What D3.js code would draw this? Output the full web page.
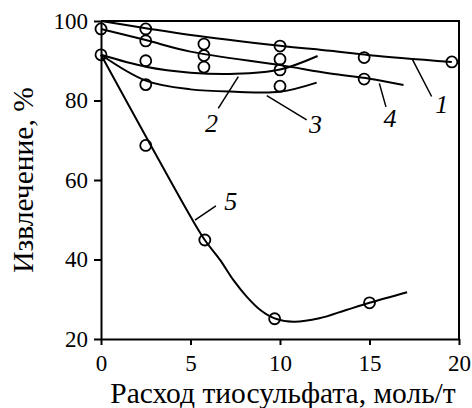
<!DOCTYPE html>
<html>
<head>
<meta charset="utf-8">
<script src="https://cdn.jsdelivr.net/npm/d3@7"></script>
</head>
<body style="margin:0">
<div id="chart"></div>
<script>
// fitted curves 1..5
const curve1 = [[0, 100], [2.5, 98.2], [5, 96.5], [10, 93.8], [12.8, 92.5], [15, 91.4], [19.6, 89.7]];
const curve2 = [[0, 91.5], [2.5, 88.5], [5, 87], [7.5, 86.7], [10, 87.8], [12.1, 91.2]];
const curve3 = [[0, 91.5], [2.5, 85], [5, 82.8], [7.5, 82.2], [10, 82.2], [12.05, 84.5]];
const curve4 = [[0, 98], [2.5, 95.2], [5, 92.3], [10, 88.9], [12.8, 86.8], [15, 85.5], [16.9, 83.9]];
const curve5 = [[0, 91.5], [2.5, 71], [5, 50.8], [5.8, 44.9], [6.65, 39.9], [7.4, 34.8], [8.15, 30.6],
                [8.9, 27.3], [9.7, 25.2], [10.75, 24.35], [12.2, 25.2], [13.7, 27.3], [15, 29.1], [17.1, 31.75]];

// measured points
const points = [
    [0, 98], [0, 91.5],
    [2.5, 98], [2.5, 95], [2.5, 90], [2.5, 84], [2.5, 68.7],
    [5.75, 94.2], [5.75, 91.3], [5.75, 88.4], [5.8, 44.9],
    [10, 93.7], [10, 90.4], [10, 87.7], [10, 83.6], [9.7, 25.1],
    [14.7, 90.8], [14.7, 85.4], [15, 29.1],
    [19.6, 89.7]
];

// curve labels: text, label position, leader line
const labels = [
    { t: "1", x: 19.03, y: 76.9, l: [[17.41, 90.2], [18.47, 81.0]] },
    { t: "2", x: 6.18, y: 72.2, l: [[7.67, 86.0], [6.55, 78.0]] },
    { t: "3", x: 11.99, y: 71.7, l: [[9.26, 81.2], [11.49, 75.1]] },
    { t: "4", x: 16.15, y: 73.4, l: [[15.55, 84.3], [15.92, 78.4]] },
    { t: "5", x: 7.25, y: 52.5, l: [[5.25, 49.9], [6.42, 53.5]] }
];

const xTicks = [0, 5, 10, 15, 20];
const yTicks = [20, 40, 60, 80, 100];
const xTitle = "Расход тиосульфата, моль/т";
const yTitle = "Извлечение, %";

const serif = '"Liberation Serif"';
const width = 472, height = 408;
const x = d3.scaleLinear().domain([0, 20]).range([101, 459]);
const y = d3.scaleLinear().domain([20, 100]).range([339, 21]);

const svg = d3.select("#chart").append("svg")
    .attr("width", width)
    .attr("height", height)
    .style("font-family", serif);

// frame
svg.append("path")
    .attr("d", `M${x(0)},${y(100)}H${x(20)}V${y(20)}`)
    .attr("fill", "none")
    .attr("stroke", "#000")
    .attr("stroke-width", 2);

const xAxis = svg.append("g")
    .attr("transform", `translate(0,${y(20)})`)
    .call(d3.axisBottom(x).tickValues(xTicks).tickSize(6).tickSizeOuter(0).tickPadding(10));
const yAxis = svg.append("g")
    .attr("transform", `translate(${x(0)},0)`)
    .call(d3.axisLeft(y).tickValues(yTicks).tickSize(7).tickSizeOuter(0).tickPadding(6));

[xAxis, yAxis].forEach(g => {
    g.attr("font-family", null).attr("font-size", null);
    g.select(".domain").attr("stroke-width", 2);
    g.selectAll(".tick line").attr("stroke-width", 2);
    g.selectAll("text").style("font-size", "23px").style("font-family", serif).attr("fill", "#000");
});

svg.append("text")
    .attr("x", (x(0) + x(20)) / 2 + 3)
    .attr("y", 403)
    .attr("text-anchor", "middle")
    .style("font-family", serif)
    .style("font-size", "29.5px")
    .text(xTitle);

svg.append("text")
    .attr("transform", "translate(33,180) rotate(-90)")
    .attr("text-anchor", "middle")
    .style("font-family", serif)
    .style("font-size", "29.5px")
    .text(yTitle);

const line = d3.line()
    .x(d => x(d[0]))
    .y(d => y(d[1]))
    .curve(d3.curveCatmullRom.alpha(0.5));

svg.selectAll(".curve")
    .data([curve1, curve2, curve3, curve4, curve5])
    .enter()
    .append("path")
    .attr("class", "curve")
    .attr("d", line)
    .attr("fill", "none")
    .attr("stroke", "#000")
    .attr("stroke-width", 2);

svg.selectAll(".pt")
    .data(points)
    .enter()
    .append("circle")
    .attr("class", "pt")
    .attr("cx", d => x(d[0]))
    .attr("cy", d => y(d[1]))
    .attr("r", 5.5)
    .attr("fill", "none")
    .attr("stroke", "#000")
    .attr("stroke-width", 1.8);

svg.selectAll(".leader")
    .data(labels)
    .enter()
    .append("path")
    .attr("class", "leader")
    .attr("d", d => d3.line().x(p => x(p[0])).y(p => y(p[1]))(d.l))
    .attr("stroke", "#000")
    .attr("stroke-width", 1.5);

svg.selectAll(".lbl")
    .data(labels)
    .enter()
    .append("text")
    .attr("class", "lbl")
    .attr("x", d => x(d.x))
    .attr("y", d => y(d.y))
    .attr("text-anchor", "middle")
    .style("font-family", serif)
    .style("font-size", "26px")
    .style("font-style", "italic")
    .text(d => d.t);
</script>
</body>
</html>
